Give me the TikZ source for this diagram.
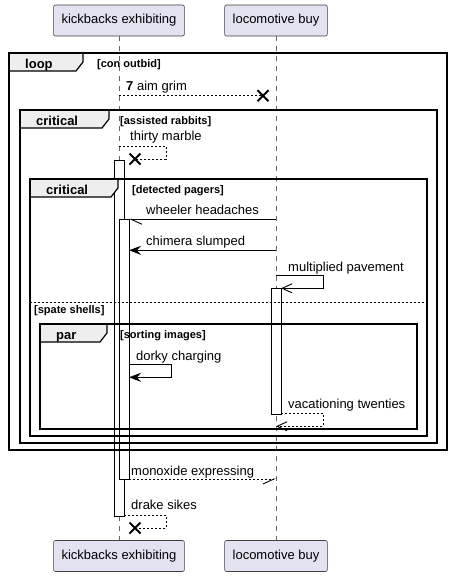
\documentclass[tikz,border=0pt]{standalone}
\usepackage{fontspec}
\setmainfont{Liberation Sans}
\usetikzlibrary{arrows.meta,shapes.misc}

\tikzset{
	actor/.style={draw=black!75, fill={rgb,255:red,226;green,226;blue,240}, line width=0.6pt, rounded corners=2pt, minimum height=31pt, inner xsep=8pt, font=\fontsize{13}{15}\selectfont},
	lifeline/.style={draw=black!60, line width=0.6pt, dash pattern=on 5pt off 5pt},
	activation/.style={draw=black, fill=white, line width=0.9pt},
	frameline/.style={draw=black, line width=1.5pt},
	tab/.style={fill={rgb,255:red,238;green,238;blue,238}, draw=black, line width=1.2pt},
	tablabel/.style={anchor=base west, inner sep=0pt, font=\fontsize{13}{15}\selectfont\bfseries},
	cond/.style={anchor=base west, inner sep=0pt, font=\fontsize{11}{13}\selectfont\bfseries},
	msg/.style={anchor=base west, inner sep=0pt, font=\fontsize{13}{15}\selectfont},
	solidmsg/.style={line width=0.9pt},
	dashmsg/.style={line width=0.9pt, dash pattern=on 2pt off 2pt},
	filled/.style={-{Stealth[length=12pt, width=9pt, inset=4pt]}},
	open/.style={-{Straight Barb[length=10pt, width=9pt, line width=0.9pt]}},
	halfleft/.style={-{Straight Barb[harpoon, length=11pt, width=10pt, line width=0.9pt]}},
	halfright/.style={-{Straight Barb[harpoon, swap, length=11pt, width=10pt, line width=0.9pt]}},
	destroy/.style={cross out, draw=black, line width=2pt, minimum size=9pt, inner sep=0pt}
}

\begin{document}
\begin{tikzpicture}[x=1pt, y=-1pt]
	\useasboundingbox (0,0) rectangle (451,576);

	% participants
	\node[actor] (kbTop) at (119,20.5) {kickbacks exhibiting};
	\node[actor] (lbTop) at (276,20.5) {locomotive buy};
	\node[actor] (kbBot) at (119,556) {kickbacks exhibiting};
	\node[actor] (lbBot) at (276,556) {locomotive buy};
	\draw[lifeline] (kbTop) -- (kbBot);
	\draw[lifeline] (lbTop) -- (lbBot);

	% activations
	\draw[activation] (114,160) rectangle (124,516);
	\draw[activation] (119,219) rectangle (129,479);
	\draw[activation] (271,288) rectangle (281,414);

	% frames
	\foreach \l/\t/\r/\b/\tr/\name/\cx/\ctext in {
		9/53/447/450/83/loop/97/{[con outbid]},
		20/110/437/443/109/critical/120/{[assisted rabbits]},
		30/179/427/436/118/critical/132/{[detected pagers]},
		40/324/417/429/107/par/120/{[sorting images]}} {
		\draw[tab] (\l,\t) -- (\tr,\t) -- (\tr,\t+9) -- (\tr-7,\t+18) -- (\l,\t+18) -- cycle;
		\draw[frameline] (\l,\t) rectangle (\r,\b);
		\node[tablabel] at (\l+16,\t+15) {\name};
		\node[cond] at (\cx,\t+14.5) {\ctext};
	}
	\draw[line width=0.8pt, dash pattern=on 2pt off 2pt] (30,302) -- (427,302);
	\node[cond] (spate) at (34,313) {[spate shells]};

	% messages
	\node[destroy] (x1) at (263,95.7) {};
	\draw[dashmsg] (kbTop |- 0,95.7) -- (x1.center);
	\node[msg] (t1) at (126,90) {\textbf{7} aim grim};

	\node[destroy] (x2) at (135,159) {};
	\draw[dashmsg] (kbTop |- 0,146) -- (166,146) -- (166,159) -- (x2.center);
	\node[msg] (t2) at (130,140) {thirty marble};

	\draw[solidmsg, halfleft] (lbTop |- 0,219.3) -- (129,219.3);
	\node[msg] (t3) at (146,214) {wheeler headaches};

	\draw[solidmsg, filled] (lbTop |- 0,250.3) -- (129,250.3);
	\node[msg] (t4) at (146,245) {chimera slumped};

	\draw[solidmsg, open] (lbTop |- 0,275.7) -- (323,275.7) -- (323,288.3) -- (281,288.3);
	\node[msg] (t5) at (288,271) {multiplied pavement};

	\draw[solidmsg, filled] (129,364.3) -- (171,364.3) -- (171,377.3) -- (129,377.3);
	\node[msg] (t6) at (136,360) {dorky charging};

	\draw[dashmsg, open] (281,413.3) -- (323,413.3) -- (323,426.3) -- (lbTop |- 0,426.3);
	\node[msg] (t7) at (288,408) {vacationing twenties};

	\draw[dashmsg, halfright] (129,479) -- (lbTop |- 0,479);
	\node[msg] (t8) at (131,475) {monoxide expressing};

	\node[destroy] (x3) at (135,528) {};
	\draw[dashmsg] (124,515.3) -- (166,515.3) -- (166,528) -- (x3.center);
	\node[msg] (t9) at (131,509) {drake sikes};
\end{tikzpicture}
\end{document}
